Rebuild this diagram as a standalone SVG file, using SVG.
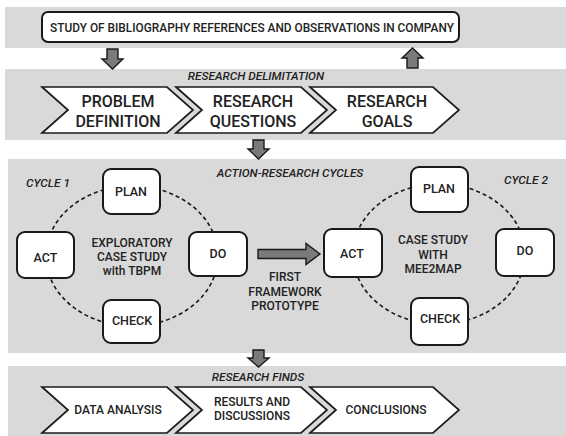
<svg xmlns="http://www.w3.org/2000/svg" width="566" height="436" viewBox="0 0 566 436">
<defs>
<style>
.band{fill:#d9d9d9}
.box{fill:#fff;stroke:#1a1a1a;stroke-width:2}
.chev{fill:#fff;stroke:#1a1a1a;stroke-width:1.7;stroke-linejoin:miter}
.arrow{fill:#7a7a7a;stroke:#1a1a1a;stroke-width:1.4;stroke-linejoin:miter}
.ring{fill:none;stroke:#1a1a1a;stroke-width:1.6;stroke-dasharray:4 3}
text{font-family:Roboto,"Liberation Sans",sans-serif;font-weight:500;fill:#222;text-anchor:middle}
.big{font-size:16px}
.lbl{font-size:12px}
.bl{font-size:12.5px}
.hd{font-size:11.8px;font-style:italic}
.top{font-size:11.85px}
</style>
</defs>
<rect width="566" height="436" fill="#fff"/>
<g id="bands">
<rect class="band" x="5" y="7" width="561" height="41"/>
<rect class="band" x="5" y="69" width="561" height="71"/>
<rect class="band" x="8" y="159" width="558" height="194"/>
<rect class="band" x="8" y="366" width="558" height="70"/>
</g>
<g id="study">
<rect class="box" x="42" y="12" width="417" height="30" rx="6"/>
<text class="top" x="252" y="31.5">STUDY OF BIBLIOGRAPHY REFERENCES AND OBSERVATIONS IN COMPANY</text>
</g>
<g id="connectors">
<path class="arrow" d="M107 49 H118 V59 H123 L112.5 69 L102 59 H107 Z"/>
<path class="arrow" d="M407 68 H418 V58 H423 L412.5 48 L402 58 H407 Z"/>
<path class="arrow" d="M253 140 H264 V149 H269 L258.5 159 L248 149 H253 Z"/>
<path class="arrow" d="M253 350 H264 V358 H269 L258.5 367 L248 358 H253 Z"/>
<path class="arrow" d="M258 249.5 H306 V243.5 L320 254 L306 264.5 V258.5 H258 Z"/>
<ellipse class="ring" cx="132" cy="256" rx="86" ry="70"/>
<ellipse class="ring" cx="439" cy="254" rx="86" ry="70"/>
</g>
<text class="hd" x="256" y="80">RESEARCH DELIMITATION</text>
<g id="problem-definition">
<path class="chev" d="M42 87 H167 L193 110 L167 133 H42 L68 110 Z"/>
<text class="big" x="118" y="107">PROBLEM<tspan x="118" dy="20">DEFINITION</tspan></text>
</g>
<g id="research-questions">
<path class="chev" d="M176 87 H301 L327 110 L301 133 H176 L202 110 Z"/>
<text class="big" x="253" y="107">RESEARCH<tspan x="253" dy="20">QUESTIONS</tspan></text>
</g>
<g id="research-goals">
<path class="chev" d="M310 87 H433 L459 110 L433 133 H310 L336 110 Z"/>
<text class="big" x="387" y="107">RESEARCH<tspan x="387" dy="20">GOALS</tspan></text>
</g>
<text class="hd" x="290" y="177">ACTION-RESEARCH CYCLES</text>
<text class="hd" x="48" y="187">CYCLE 1</text>
<text class="hd" x="526" y="184">CYCLE 2</text>
<g id="cycle1-center">
<text class="lbl" x="132" y="247">EXPLORATORY<tspan x="132" dy="14.2">CASE STUDY</tspan><tspan x="132" dy="14.2">with TBPM</tspan></text>
</g>
<g id="c1-plan"><rect class="box" x="103" y="169" width="57" height="45" rx="8"/><text class="bl" x="131" y="196">PLAN</text></g>
<g id="c1-act"><rect class="box" x="17" y="232" width="57" height="46" rx="8"/><text class="bl" x="45.5" y="262">ACT</text></g>
<g id="c1-do"><rect class="box" x="189" y="232" width="58" height="44" rx="8"/><text class="bl" x="218" y="258">DO</text></g>
<g id="c1-check"><rect class="box" x="103" y="300" width="57" height="43" rx="8"/><text class="bl" x="132" y="325">CHECK</text></g>
<g id="prototype">
<text class="lbl" x="285" y="281">FIRST<tspan x="285" dy="14.5">FRAMEWORK</tspan><tspan x="285" dy="14.5">PROTOTYPE</tspan></text>
</g>
<g id="cycle2-center">
<text class="lbl" x="433" y="244">CASE STUDY<tspan x="433" dy="14.5">WITH</tspan><tspan x="433" dy="14.5">MEE2MAP</tspan></text>
</g>
<g id="c2-plan"><rect class="box" x="411" y="167" width="57" height="45" rx="8"/><text class="bl" x="439" y="193">PLAN</text></g>
<g id="c2-act"><rect class="box" x="324" y="229" width="58" height="48" rx="8"/><text class="bl" x="352" y="258">ACT</text></g>
<g id="c2-do"><rect class="box" x="496" y="229" width="58" height="47" rx="8"/><text class="bl" x="525" y="255">DO</text></g>
<g id="c2-check"><rect class="box" x="411" y="298" width="57" height="47" rx="8"/><text class="bl" x="440" y="323">CHECK</text></g>
<text class="hd" x="258" y="381">RESEARCH FINDS</text>
<g id="data-analysis">
<path class="chev" d="M42 387 H167 L193 410 L167 433 H42 L68 410 Z"/>
<text class="lbl" x="118" y="414">DATA ANALYSIS</text>
</g>
<g id="results">
<path class="chev" d="M176 387 H301 L327 410 L301 433 H176 L202 410 Z"/>
<text class="lbl" x="252" y="406">RESULTS AND<tspan x="252" dy="14.2">DISCUSSIONS</tspan></text>
</g>
<g id="conclusions">
<path class="chev" d="M310 387 H433 L459 410 L433 433 H310 L336 410 Z"/>
<text class="lbl" x="386" y="414">CONCLUSIONS</text>
</g>
</svg>
